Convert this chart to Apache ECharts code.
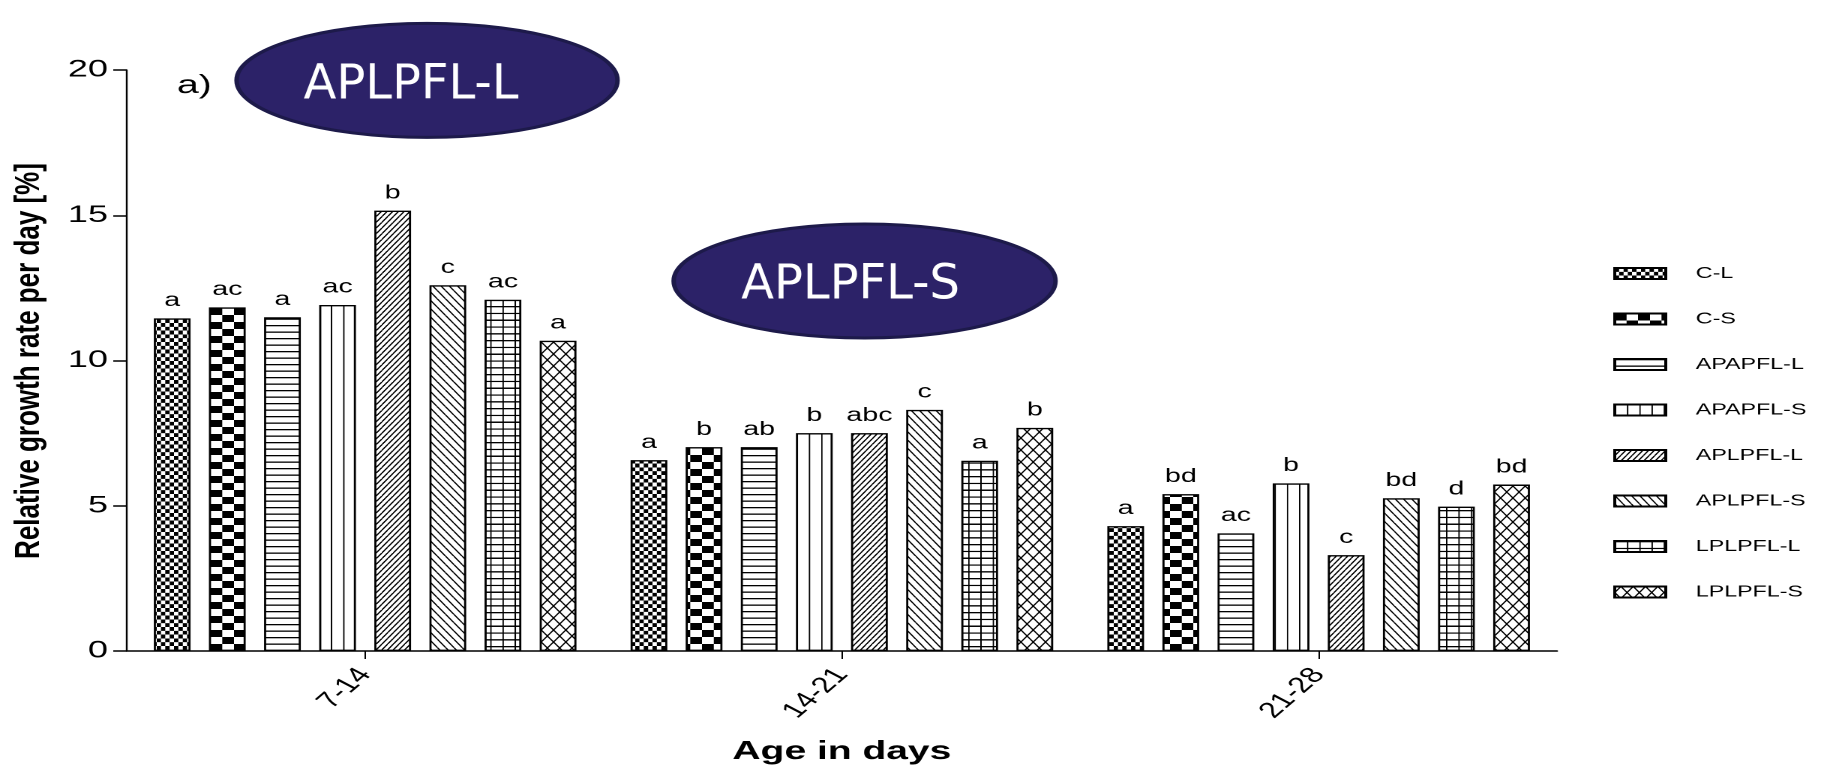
<!DOCTYPE html>
<html>
<head>
<meta charset="utf-8">
<title>Relative growth rate per day</title>
<script src="https://cdn.jsdelivr.net/npm/echarts@6/dist/echarts.min.js"></script>
<style>
	html, body { margin: 0; padding: 0; background: #fff; overflow: hidden; }
	/* the figure is a horizontally stretched graph, so draw it narrow and stretch it */
	#main { width: 1218px; height: 771px; transform: scaleX(1.5); transform-origin: 0 0; }
</style>
</head>
<body>
<div id="main"></div>
<script>
var categories = ['7-14', '14-21', '21-28'];
var seriesNames = ['C-L', 'C-S', 'APAPFL-L', 'APAPFL-S', 'APLPFL-L', 'APLPFL-S', 'LPLPFL-L', 'LPLPFL-S'];

var valCL = [11.45, 6.57, 4.30];
var valCS = [11.83, 7.02, 5.40];
var valAPAPFLL = [11.49, 7.02, 4.05];
var valAPAPFLS = [11.91, 7.50, 5.77];
var valAPLPFLL = [15.16, 7.50, 3.30];
var valAPLPFLS = [12.59, 8.30, 5.26];
var valLPLPFLL = [12.09, 6.55, 4.97];
var valLPLPFLS = [10.68, 7.68, 5.73];

var lettersCL = ['a', 'a', 'a'];
var lettersCS = ['ac', 'b', 'bd'];
var lettersAPAPFLL = ['a', 'ab', 'ac'];
var lettersAPAPFLS = ['ac', 'b', 'b'];
var lettersAPLPFLL = ['b', 'abc', 'c'];
var lettersAPLPFLS = ['c', 'c', 'bd'];
var lettersLPLPFLL = ['ac', 'a', 'd'];
var lettersLPLPFLS = ['a', 'b', 'bd'];

var yTicks = [0, 5, 10, 15, 20];

var values = [valCL, valCS, valAPAPFLL, valAPAPFLS, valAPLPFLL, valAPLPFLS, valLPLPFLL, valLPLPFLS];
var letters = [lettersCL, lettersCS, lettersAPAPFLL, lettersAPAPFLS, lettersAPLPFLL, lettersAPLPFLS, lettersLPLPFLL, lettersLPLPFLS];

var FONT = '"Liberation Sans", Arial, sans-serif';
var SX = 1.5; // horizontal stretch of the page

// pattern tiles, drawn at higher resolution then scaled back
var R = 4;
function makePattern(w, h, draw) {
	var c = document.createElement('canvas');
	c.width = Math.round(w * R);
	c.height = Math.round(h * R);
	var ctx = c.getContext('2d');
	ctx.scale(c.width / w, c.height / h);
	ctx.fillStyle = '#fff';
	ctx.fillRect(0, 0, w, h);
	ctx.fillStyle = '#000';
	ctx.strokeStyle = '#000';
	draw(ctx, w, h);
	return { image: c, repeat: 'repeat', scaleX: w / c.width, scaleY: h / c.height };
}
function checker(cw, ch) {
	return makePattern(2 * cw, 2 * ch, function(ctx) {
		ctx.fillRect(0, 0, cw, ch);
		ctx.fillRect(cw, ch, cw, ch);
	});
}
function hLines(step, t) {
	return makePattern(4, step, function(ctx) { ctx.fillRect(0, 0, 4, t); });
}
function vLines(step, t) {
	return makePattern(step, 4, function(ctx) { ctx.fillRect(0, 0, t, 4); });
}
function gridLines(sx, sy, tx, ty) {
	return makePattern(sx, sy, function(ctx) {
		ctx.fillRect(0, 0, tx, sy);
		ctx.fillRect(0, 0, sx, ty);
	});
}
function diag(w, h, t, up) {
	return makePattern(w, h, function(ctx) {
		ctx.lineWidth = t;
		[-w, 0, w].forEach(function(o) {
			ctx.beginPath();
			if (up) { ctx.moveTo(o, h); ctx.lineTo(o + w, 0); }
			else { ctx.moveTo(o, 0); ctx.lineTo(o + w, h); }
			ctx.stroke();
		});
	});
}
// weave of short diagonal strokes
function weave(w, h, t) {
	return makePattern(w, h, function(ctx) {
		ctx.lineWidth = t;
		var segs = [
			[0, h / 2, w / 2, 0], [w / 2, h, w, h / 2],
			[0, h / 2, w / 4, 3 * h / 4], [w / 2, 0, 3 * w / 4, h / 4],
			[w / 2, h, w / 4, 3 * h / 4], [w, h / 2, 3 * w / 4, h / 4],
			[-w / 2, h, 0, h / 2], [w, 0, w + w / 2, -h / 2]
		];
		segs.forEach(function(s) {
			ctx.beginPath();
			ctx.moveTo(s[0], s[1]);
			ctx.lineTo(s[2], s[3]);
			ctx.stroke();
		});
	});
}

var patterns = [
	checker(2.9, 3.8),
	checker(7.8, 7),
	hLines(6.5, 1.3),
	vLines(8.17, 0.9),
	diag(3.8, 5.7, 1.0, true),
	diag(5.5, 8.3, 1.0, false),
	gridLines(8.17, 6.8, 0.9, 1.3),
	weave(8.2, 12, 1.0)
];

var chart = echarts.init(document.getElementById('main'), null, { renderer: 'canvas', devicePixelRatio: 2 });

var series = seriesNames.map(function(name, i) {
	return {
		name: name,
		type: 'bar',
		data: values[i],
		barWidth: 24.5,
		barGap: '50%',
		itemStyle: { color: patterns[i], borderColor: '#000', borderWidth: 1.4 },
		label: {
			show: true,
			position: 'top',
			distance: 8,
			color: '#000',
			fontSize: 19,
			fontFamily: FONT,
			formatter: function(p) { return letters[i][p.dataIndex]; }
		}
	};
});

function ellipseLabel(cx, cy, rx, ry, text, tx, ty) {
	return [
		{
			type: 'ellipse',
			shape: { cx: cx, cy: cy, rx: rx, ry: ry },
			style: { fill: '#2c2268', stroke: '#1d1a4a', lineWidth: 3 },
			z: 10
		},
		{
			type: 'text',
			x: tx, y: ty,
			scaleX: 1 / SX,
			style: {
				text: text, fill: '#fff', fontSize: 48, fontFamily: '"DejaVu Sans", sans-serif',
				align: 'center', verticalAlign: 'middle', textAlign: 'center', textVerticalAlign: 'middle'
			},
			z: 11
		}
	];
}

var legendText = { fontSize: 15.5, color: '#000', fontFamily: FONT, padding: [0, 0, 0, 15] };

var option = {
	animation: false,
	backgroundColor: '#fff',
	grid: { left: 84.5, right: 180, top: 70, bottom: 120 },
	legend: {
		orient: 'vertical',
		left: 1075.5,
		top: 265.5,
		padding: 0,
		itemWidth: 34,
		itemHeight: 11,
		itemGap: 29.5,
		icon: 'rect',
		textStyle: legendText,
		data: seriesNames.map(function(n) { return { name: n, textStyle: legendText }; })
	},
	xAxis: {
		type: 'category',
		data: categories,
		axisLine: { show: true, lineStyle: { color: '#000', width: 1.5 } },
		axisTick: { show: true, alignWithLabel: true, length: 8, lineStyle: { color: '#000', width: 1 } },
		axisLabel: { rotate: 52, margin: 20, fontSize: 22, color: '#000', fontFamily: FONT },
		name: 'Age in days',
		nameLocation: 'middle',
		nameGap: 88,
		nameTextStyle: { fontSize: 26, fontWeight: 'bold', color: '#000', fontFamily: FONT }
	},
	yAxis: {
		type: 'value',
		min: yTicks[0],
		max: yTicks[yTicks.length - 1],
		interval: 5,
		axisLine: { show: true, lineStyle: { color: '#000', width: 1.2 } },
		axisTick: { show: true, length: 9, lineStyle: { color: '#000', width: 1.5 } },
		axisLabel: { margin: 12.5, fontSize: 24, color: '#000', fontFamily: FONT },
		splitLine: { show: false }
	},
	graphic: [].concat(
		ellipseLabel(284.7, 80.4, 127, 57, 'APLPFL-L', 274, 86),
		ellipseLabel(576.4, 281, 127.3, 57, 'APLPFL-S', 567, 286),
		[
			{
				type: 'text',
				x: 118, y: 86,
				style: { text: 'a)', fill: '#000', fontSize: 26, fontFamily: FONT, verticalAlign: 'middle', textVerticalAlign: 'middle' }
			},
			{
				// y axis title is barely stretched in the figure
				type: 'text',
				x: 19.5, y: 361,
				rotation: Math.PI / 2,
				scaleY: 0.88,
				style: {
					text: 'Relative growth rate per day [%]', fill: '#000', fontSize: 26, fontWeight: 'bold', fontFamily: FONT,
					align: 'center', verticalAlign: 'middle', textAlign: 'center', textVerticalAlign: 'middle'
				}
			}
		]
	),
	series: series
};

chart.setOption(option);
</script>
</body>
</html>
